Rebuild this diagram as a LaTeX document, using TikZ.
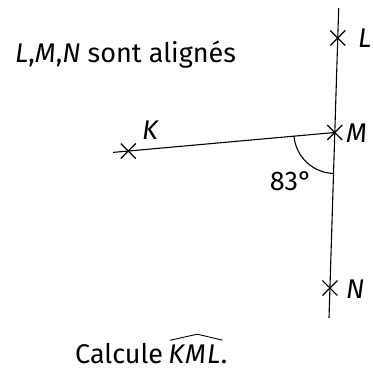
\documentclass[tikz,border=0pt]{standalone}
\usepackage{fontspec}
\setmainfont{Fira Sans}
\usetikzlibrary{calc,positioning}

\tikzset{
  trait/.style={line width=1.1pt},
  croix/.style={line width=1.2pt},
  nompoint/.style={font=\itshape\fontsize{27}{31}\selectfont,inner sep=0pt},
  consigne/.style={font=\fontsize{27}{31}\selectfont,inner sep=0pt},
}
\newcommand{\marque}[1]{\draw[croix] (#1) +(-7.5,-7.5) -- +(7.5,7.5) (#1) +(-7.5,7.5) -- +(7.5,-7.5);}

\begin{document}
\begin{tikzpicture}[x=1pt,y=-1pt]
    \useasboundingbox (0,0) rectangle (373,370);

    % points
    \coordinate (haut) at (338.7,8);
    \coordinate (bas) at (329,318);
    \coordinate (L) at (337.8,38);
    \coordinate (M) at (334.8,132.5);
    \coordinate (N) at (329.9,288);
    \coordinate (K) at (128.3,151);
    \coordinate (gauche) at (113,152.4);

    \draw[trait] (haut) -- (bas);
    \draw[trait] (gauche) -- (M);
    \marque{L} \marque{M} \marque{N} \marque{K}

    % angle
    \draw[trait] (M) ++(185.1:41pt) arc[start angle=185.1,end angle=268.2,radius=41pt];
    \node[consigne] (angle) at (291,181) {83°};

    \node[nompoint,anchor=west] (nomL) at (358,38) {L};
    \node[nompoint,anchor=west] (nomM) at (346,133) {M};
    \node[nompoint,anchor=west] (nomN) at (346,289) {N};
    \node[nompoint] (nomK) at (150,130) {K};

    \node[consigne,anchor=west] (titre) at (15,55) {\textit{L},\textit{M},\textit{N} sont alignés};
    \node[consigne,anchor=base west] (question) at (75,363) {Calcule};
    \node[nompoint,anchor=base west] (kml) at ([xshift=5pt]question.base east) {K\kern1pt M\kern1pt L};
    \node[consigne,anchor=base west] (point) at (kml.base east) {.};
    % chapeau de l'angle
    \draw[line width=0.9pt,line join=round]
      ([xshift=2pt,yshift=4pt]kml.north west) -- ([xshift=3pt,yshift=10pt]kml.north) -- ([xshift=2pt,yshift=4pt]kml.north east);
\end{tikzpicture}
\end{document}
